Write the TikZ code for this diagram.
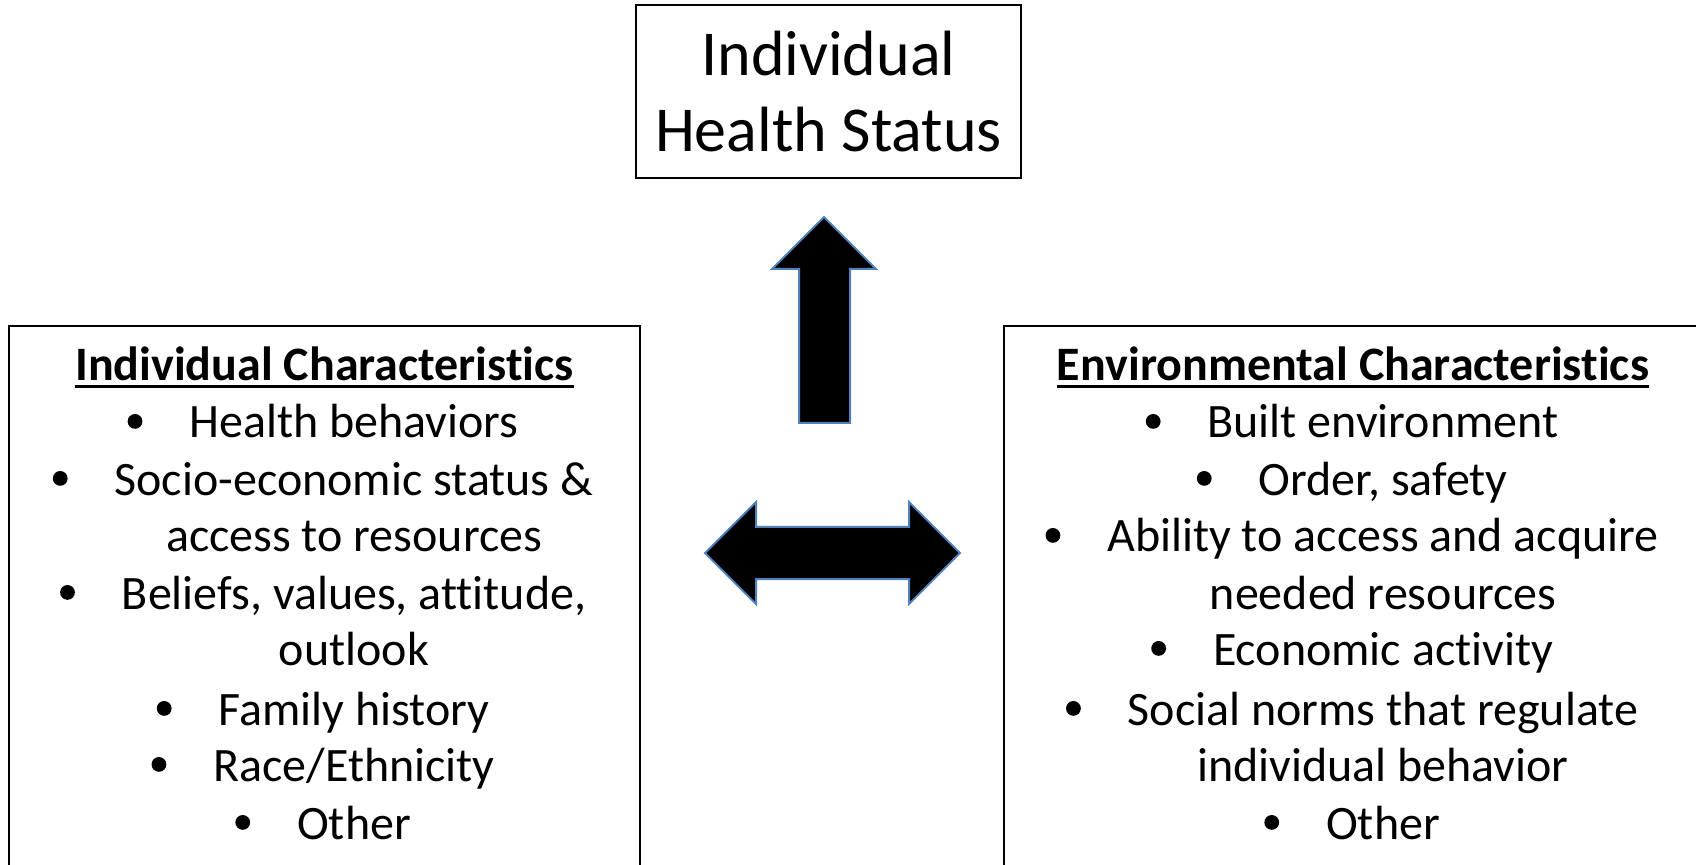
\documentclass[tikz,border=0pt]{standalone}
\usepackage{fontspec}
\setmainfont{Carlito}[Ligatures = NoCommon]
\definecolor{arrowblue}{HTML}{4F81BD}

\begin{document}
\begin{tikzpicture}[x = 0.5pt, y = -0.5pt,
    frame/.style = {draw, line width = 1pt},
    title/.style = {font = \fontsize{32}{38}\selectfont, align = center},
    head/.style = {anchor = base, inner sep = 0pt, font = \fontsize{24}{28.5}\selectfont\bfseries},
    entry/.style = {anchor = base, inner sep = 0pt, font = \fontsize{24}{28.5}\selectfont},
    blockarrow/.style = {fill = black, draw = arrowblue, line width = 1pt, line join = miter}]
    \clip (0,0) rectangle (1696,865);

    % top box
    \node [frame, title, minimum width = 192.5pt, minimum height = 86.5pt] (status) at (828.5,91.5) {Individual\\Health Status};

    % arrows
    \draw [blockarrow] (824,217) -- (876,269) -- (850,269) -- (850,423) -- (799,423) -- (799,269) -- (772,269) -- cycle;
    \draw [blockarrow] (705,553) -- (756,502) -- (756,527) -- (909,527) -- (909,502) -- (960,553)
        -- (909,604) -- (909,579) -- (756,579) -- (756,604) -- cycle;

    % left box
    \draw [frame] (9,326) rectangle (640,880);
    \node [head] (lhead) at (324.5,381) {Individual Characteristics};
    \draw [line width = 1.6pt] ([yshift = -2.8pt]lhead.base west) -- ([yshift = -2.8pt]lhead.base east);
    \node [entry] (l1) at (354,438) {Health behaviors};
    \node [entry] (l2) at (354,495) {Socio-economic status \&};
    \node [entry] (l2b) at (354,552) {access to resources};
    \node [entry] (l3) at (354,609) {Beliefs, values, attitude,};
    \node [entry] (l3b) at (354,665) {outlook};
    \node [entry] (l4) at (354,725) {Family history};
    \node [entry] (l5) at (354,781) {Race/Ethnicity};
    \node [entry] (l6) at (354,839) {Other};

    % right box
    \draw [frame] (1004,326) rectangle (1710,880);
    \node [head] (rhead) at (1353,381) {Environmental Characteristics};
    \draw [line width = 1.6pt] ([yshift = -2.8pt]rhead.base west) -- ([yshift = -2.8pt]rhead.base east);
    \node [entry] (r1) at (1383,438) {Built environment};
    \node [entry] (r2) at (1383,495) {Order, safety};
    \node [entry] (r3) at (1383,552) {Ability to access and acquire};
    \node [entry] (r3b) at (1383,609) {needed resources};
    \node [entry] (r4) at (1383,665) {Economic activity};
    \node [entry] (r5) at (1383,725) {Social norms that regulate};
    \node [entry] (r5b) at (1383,781) {individual behavior};
    \node [entry] (r6) at (1383,839) {Other};

    % bullets
    \foreach \n in {l1, l2, l3, l4, l5, l6, r1, r2, r3, r4, r5, r6}
        \fill ([shift = {(-27pt,8.3pt)}]\n.base west) circle (3.7pt);
\end{tikzpicture}
\end{document}
